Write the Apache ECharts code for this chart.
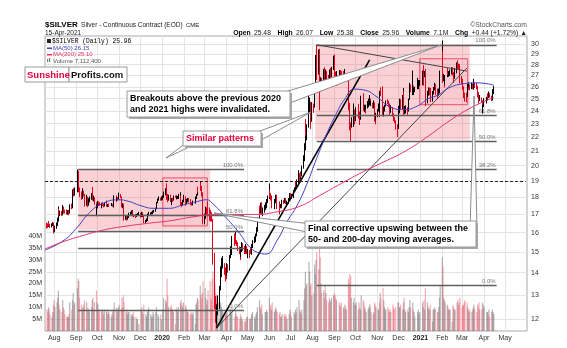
<!DOCTYPE html>
<html><head><meta charset="utf-8">
<script src="https://cdn.jsdelivr.net/npm/echarts@6/dist/echarts.min.js"></script>
<style>html,body{margin:0;padding:0;background:#fff}#c{width:567px;height:348px}</style>
</head><body><div id="c"></div>
<script>
// ---------------- DATA ----------------
const startDate = '2019-07-22';
const holidays = ['2019-09-02','2019-11-28','2019-12-25','2020-01-01','2020-04-10','2020-05-25','2020-07-03','2020-09-07','2020-11-26','2020-12-25','2021-01-01','2021-04-02'];
const firstOpen = 16.45;
const closes = [
// Jul 2019
16.40,16.38,16.50,16.43,16.37,16.43,16.47,16.37,
// Aug 2019
16.14,16.29,16.39,16.60,17.18,17.00,17.13,17.02,17.39,17.22,17.21,17.12,17.11,17.12,17.13,17.07,17.48,17.38,18.02,18.35,18.27,18.39,
// Sep 2019
19.09,19.60,18.46,18.16,18.09,18.20,18.35,18.14,17.53,17.99,17.95,17.55,17.88,17.90,18.16,18.56,17.94,17.97,17.66,16.99,
// Oct 2019
17.40,17.68,17.62,17.61,17.41,17.58,17.55,17.52,17.53,17.69,17.51,17.53,17.54,17.53,17.57,17.60,17.48,17.69,18.06,17.82,17.93,17.90,18.11,
// Nov 2019
18.16,18.04,17.47,17.58,16.88,16.82,16.86,16.73,16.85,16.89,17.02,17.07,17.12,17.15,16.95,16.97,16.90,16.97,17.04,17.06,
// Dec 2019
16.87,17.05,16.90,16.95,16.55,16.65,16.68,16.94,16.95,17.06,17.07,17.10,17.06,17.18,17.18,17.33,17.67,17.87,17.91,17.86,17.92,
// Jan 2020
18.05,18.22,18.33,18.44,18.07,17.86,18.10,17.78,17.63,17.89,17.86,18.06,18.05,17.95,17.98,18.00,18.03,18.06,17.57,17.52,17.78,18.06,
// Feb 2020
17.66,17.65,17.73,17.84,17.81,17.76,17.63,17.56,17.65,17.70,17.72,17.98,18.12,18.48,18.47,18.74,18.52,18.10,17.70,16.56,
// Mar 2020
16.82,17.30,17.20,17.50,17.28,17.05,16.87,16.73,15.75,14.76,12.74,12.49,12.00,12.32,12.55,13.04,14.06,14.29,14.41,14.46,14.03,14.00,
// Apr 2020
13.91,14.35,14.16,14.79,14.94,15.18,15.75,15.49,15.78,15.53,15.40,15.21,15.12,14.76,15.02,15.35,15.18,15.15,15.08,15.17,15.00,
// May 2020
15.02,14.98,15.05,14.97,15.23,15.52,15.67,15.71,15.84,16.12,16.66,17.23,17.09,17.58,17.13,17.21,17.37,17.45,17.70,17.96,
// Jun 2020
18.34,18.19,17.90,17.98,17.42,17.58,17.77,18.05,17.82,17.48,17.47,17.42,17.49,17.46,17.75,17.73,17.91,17.68,17.58,17.68,17.86,18.19,
// Jul 2020
17.99,18.05,18.40,18.51,18.85,18.79,18.97,19.46,19.18,19.49,19.43,19.83,20.42,21.37,22.88,22.67,22.78,24.39,24.52,24.12,23.27,24.39,
// Aug 2020
24.35,26.04,26.89,28.36,27.51,29.26,25.90,25.58,26.50,26.21,27.45,27.19,26.67,27.36,26.80,26.65,26.39,27.43,27.19,27.70,28.51,
// Sep 2020
28.20,27.12,26.73,27.01,26.86,27.19,27.09,26.74,27.18,26.93,27.11,26.74,26.86,24.59,24.22,22.97,22.87,23.05,23.16,23.47,23.29,
// Oct 2020
23.57,23.89,24.37,23.61,23.34,23.80,25.07,24.89,24.15,24.26,24.15,24.29,24.53,24.57,25.00,24.53,24.70,24.43,24.58,23.39,23.38,23.64,
// Nov 2020
24.04,24.31,23.90,25.56,25.51,24.08,24.09,24.25,24.44,24.78,24.74,24.37,24.29,23.93,24.19,23.65,23.42,23.21,22.66,22.62,
// Dec 2020
24.19,24.21,24.84,24.23,24.89,25.56,23.94,24.06,24.13,24.01,24.58,24.83,26.17,25.76,25.99,25.63,25.64,25.86,25.92,26.28,26.37,26.41,
// Jan 2021
27.37,27.56,27.11,27.22,24.97,25.11,25.47,25.62,25.60,24.85,24.95,25.56,25.78,26.21,25.55,25.45,25.38,25.74,26.55,27.00,
// Feb 2021
29.42,26.86,26.94,26.31,26.92,27.48,27.16,27.31,27.11,27.36,27.40,27.33,27.06,27.07,27.26,28.01,27.89,27.87,27.38,26.69,
// Mar 2021
26.56,25.92,25.48,25.19,25.16,25.12,26.06,26.05,26.18,25.91,26.17,25.96,26.25,26.28,26.20,25.96,25.35,25.28,25.01,25.07,24.80,24.25,24.40,
// Apr 2021
24.96,24.97,25.28,25.11,25.38,25.26,24.95,25.51,25.52,25.96
];
const highs = [
16.55,16.50,16.62,16.60,16.48,16.50,16.56,16.55,
16.48,16.38,16.55,16.82,17.46,17.32,17.22,17.20,17.54,17.45,17.40,17.28,17.28,17.25,17.23,17.25,17.58,17.62,18.10,18.48,18.55,18.60,
19.15,19.75,19.65,18.60,18.35,18.30,18.55,18.40,18.20,18.15,18.05,17.98,17.95,18.05,18.25,18.62,18.62,18.10,18.00,17.70,
17.55,17.78,17.75,17.70,17.68,17.65,17.70,17.60,17.72,17.80,17.75,17.60,17.62,17.60,17.65,17.66,17.60,17.75,18.12,18.10,17.98,18.02,18.20,
18.28,18.20,18.05,17.65,17.62,16.95,16.92,16.90,16.95,16.98,17.10,17.15,17.22,17.25,17.18,17.00,17.02,17.02,17.08,17.15,
17.10,17.15,17.12,17.02,16.98,16.70,16.78,16.98,17.05,17.15,17.12,17.15,17.12,17.22,17.26,17.38,17.72,17.92,18.05,17.98,18.05,
18.12,18.35,18.55,18.58,18.85,18.20,18.15,18.15,17.82,17.95,17.95,18.10,18.10,18.12,18.05,18.08,18.20,18.30,18.12,17.72,17.85,18.15,
18.05,17.85,17.90,17.95,17.95,17.88,17.85,17.70,17.72,17.80,17.78,18.05,18.20,18.55,18.65,18.96,18.90,18.70,18.30,17.88,
17.05,17.45,17.40,17.60,17.75,17.40,17.25,17.12,16.75,15.85,14.95,12.95,12.62,12.58,12.98,13.40,14.30,14.62,14.70,14.80,14.45,14.25,
14.15,14.45,14.40,14.85,15.30,15.35,15.82,15.95,16.10,15.90,15.60,15.50,15.28,15.15,15.25,15.50,15.45,15.30,15.30,15.40,15.30,
15.15,15.10,15.25,15.20,15.40,15.60,15.80,15.85,15.95,16.30,16.85,17.35,17.50,17.68,17.70,17.40,17.55,17.70,17.90,18.10,
18.85,18.45,18.25,18.10,18.05,17.70,17.90,18.15,18.15,17.75,17.60,17.75,17.60,17.65,17.85,17.85,17.95,17.95,17.70,17.80,17.95,18.25,
18.25,18.20,18.45,18.60,18.95,19.00,19.10,19.70,19.50,19.60,19.55,20.00,20.70,21.55,23.15,23.35,22.95,26.05,25.10,24.75,24.70,24.70,
24.60,26.20,27.10,28.90,29.91,29.45,29.50,26.45,26.85,26.80,27.60,27.75,27.30,27.55,27.40,27.05,27.00,27.55,27.70,27.80,28.85,
28.95,28.25,27.35,27.40,27.50,27.45,27.50,27.40,27.30,27.40,27.60,27.20,27.20,26.95,24.95,24.65,23.10,23.50,23.45,24.60,24.10,
24.30,24.15,24.50,24.55,23.95,24.10,25.25,25.45,25.10,24.50,24.35,24.50,24.80,25.00,25.30,25.00,24.80,24.65,24.85,24.70,23.60,23.85,
24.15,24.60,24.50,25.65,25.95,26.05,24.35,24.40,24.50,24.85,24.95,24.80,24.60,24.25,24.45,24.30,23.80,23.50,23.25,22.95,
24.40,24.50,25.00,24.95,25.30,25.90,25.60,24.40,24.45,24.30,24.65,25.00,26.35,26.20,27.45,26.10,25.95,26.00,26.80,26.35,26.60,26.60,
27.45,27.70,27.95,27.40,27.60,25.60,25.65,25.95,25.95,25.90,25.10,25.65,26.00,26.35,26.25,25.85,25.60,25.85,26.75,27.45,
30.35,29.30,27.15,27.00,27.05,27.65,27.65,27.40,27.30,27.55,27.75,27.75,27.30,27.35,27.70,28.20,28.40,28.10,28.05,27.50,
26.95,26.70,26.05,25.75,25.50,25.50,26.25,26.25,26.40,26.20,26.35,26.30,26.35,26.70,26.40,26.35,26.10,25.55,25.35,25.30,25.10,24.85,24.50,
25.05,25.15,25.40,25.45,25.60,25.45,25.25,25.60,25.80,26.07
];
const lows = [
16.22,16.25,16.30,16.35,16.25,16.28,16.35,16.20,
15.95,16.02,16.20,16.35,16.60,16.90,16.90,16.92,16.95,17.10,17.05,17.05,17.00,16.98,17.02,16.95,17.05,17.30,17.35,17.92,18.05,18.10,
18.30,19.05,18.30,18.02,17.85,17.90,17.95,18.05,17.45,17.50,17.75,17.42,17.50,17.70,17.85,18.10,17.80,17.75,17.55,16.92,
16.90,17.35,17.50,17.50,17.38,17.35,17.48,17.40,17.45,17.50,17.45,17.42,17.45,17.46,17.48,17.50,17.45,17.40,17.62,17.75,17.75,17.80,17.85,
17.95,17.95,17.40,17.35,16.80,16.65,16.70,16.65,16.70,16.80,16.88,16.98,17.00,17.05,16.90,16.85,16.80,16.85,16.92,16.95,
16.82,16.85,16.85,16.88,16.52,16.50,16.58,16.62,16.85,16.90,16.98,17.00,17.00,17.02,17.10,17.15,17.30,17.65,17.80,17.80,17.80,
17.85,17.98,18.12,18.20,17.85,17.70,17.80,17.72,17.52,17.55,17.72,17.80,17.98,17.88,17.88,17.90,17.90,17.90,17.50,17.42,17.50,17.70,
17.60,17.50,17.60,17.70,17.70,17.68,17.55,17.50,17.52,17.58,17.62,17.70,17.90,18.10,18.30,18.40,18.40,18.05,17.60,16.45,
16.45,16.75,16.90,17.10,17.00,16.65,16.60,16.60,15.50,14.38,12.40,11.85,11.64,11.78,12.15,12.40,13.20,13.80,14.10,14.20,13.90,13.60,
13.70,13.85,14.00,14.10,14.70,14.85,15.15,15.30,15.40,15.40,15.30,15.05,14.90,14.60,14.75,15.00,15.05,14.90,14.90,15.00,14.90,
14.70,14.70,14.90,14.90,14.85,15.20,15.45,15.50,15.60,15.80,16.05,16.70,16.90,17.05,17.00,16.90,17.10,17.25,17.35,17.65,
17.90,18.00,17.80,17.70,17.35,17.30,17.50,17.65,17.75,17.30,17.00,17.35,17.35,17.35,17.45,17.60,17.65,17.60,17.45,17.50,17.60,17.80,
17.80,17.90,17.95,18.35,18.40,18.65,18.65,18.85,18.90,19.10,19.25,19.30,19.80,20.30,21.05,22.10,21.75,22.70,23.80,23.85,22.60,23.15,
23.85,24.25,25.90,26.80,26.60,27.10,24.90,24.05,25.60,25.90,26.10,26.70,25.85,26.40,26.50,26.40,26.05,26.20,26.80,26.85,27.50,
28.05,26.90,26.10,26.10,26.60,26.75,26.90,26.40,26.70,26.80,26.75,26.50,26.55,24.40,24.05,22.50,21.70,22.70,22.75,23.10,22.95,
23.20,23.20,23.85,23.40,22.90,23.30,23.80,24.60,24.00,23.90,23.80,24.10,24.20,24.30,24.45,24.40,24.40,24.20,24.20,23.15,22.95,23.25,
23.50,23.95,23.50,23.85,25.20,23.60,23.55,23.95,24.05,24.35,24.55,24.30,24.05,23.65,23.85,23.55,23.20,23.05,22.55,22.00,
22.60,23.80,24.15,24.10,24.10,24.80,23.60,23.75,23.80,23.60,23.95,24.50,24.90,25.55,25.30,25.40,25.30,25.55,25.80,25.80,26.15,26.10,
26.15,27.00,26.10,26.85,24.40,24.60,24.85,25.25,25.30,24.70,24.75,24.85,25.35,25.70,25.30,25.20,25.05,25.25,25.45,26.30,
27.80,26.35,26.50,25.95,26.20,26.85,27.05,26.90,26.95,26.95,27.10,27.00,26.35,26.70,26.85,27.20,27.60,27.60,27.25,26.30,
26.25,25.75,25.35,25.05,24.75,24.70,25.15,25.75,25.95,25.70,25.80,25.80,25.75,26.05,25.90,25.80,25.10,24.95,24.60,24.80,24.70,23.80,23.78,
24.30,24.60,24.85,25.00,25.05,25.10,24.80,24.85,25.30,25.38
];
// volume, millions
const volumes = [
9,8,10,9,7,6,8,11,
13,10,12,14,17,11,9,8,13,10,9,7,6,6,6,7,12,9,13,16,11,12,
18,22,21,14,11,9,10,11,13,12,9,10,9,8,10,13,14,9,12,17,
12,11,8,9,8,9,8,7,9,8,9,7,8,7,6,7,8,9,12,10,8,9,10,
11,9,14,10,15,12,8,9,7,8,8,7,6,7,8,6,6,5,5,3,
9,10,8,7,11,7,6,8,9,10,7,6,6,8,7,8,10,7,6,7,5,
9,14,13,12,22,15,10,10,11,9,9,8,3,10,9,8,10,12,13,11,10,12,
11,10,9,8,8,7,8,7,7,8,3,11,12,14,13,19,15,14,16,21,
18,14,11,13,17,21,14,13,22,25,20,16,15,13,12,11,12,10,9,8,7,7,
7,8,6,9,9,7,10,6,9,7,6,6,5,7,6,5,4,4,4,5,6,
6,5,5,6,7,8,6,5,7,8,10,13,10,9,11,7,8,8,9,8,
14,10,11,9,12,8,9,10,9,8,7,8,6,6,7,7,6,7,6,5,7,9,
8,6,8,7,9,8,10,13,9,8,7,9,13,18,25,19,20,29,25,19,20,15,
16,28,24,30,33,26,36,31,20,16,17,14,19,16,13,12,14,13,12,14,15,
16,15,14,13,12,11,10,12,10,9,11,10,9,22,20,24,23,14,12,14,11,
11,12,9,12,10,9,15,13,12,10,9,8,9,10,11,10,8,7,8,12,11,10,
9,9,12,16,14,18,13,10,9,9,10,9,8,9,8,11,10,9,10,12,
12,10,10,11,9,12,14,9,8,9,8,10,13,10,12,9,8,6,8,9,7,8,
12,10,13,9,18,12,10,9,9,11,4,9,9,10,9,8,8,10,14,19,
31,27,14,13,12,11,10,9,9,9,4,11,10,9,9,12,13,11,12,14,
10,11,11,12,13,12,10,9,8,9,8,9,10,11,9,8,11,10,12,9,9,12,11,
10,8,8,7,9,6,8,9,8,7.1124
];
const ma50Dates = ['2019-07-19','2019-08-15','2019-09-03','2019-09-20','2019-10-07','2019-10-31','2019-11-15','2019-12-02','2019-12-20','2020-01-10','2020-01-31','2020-02-20','2020-03-04','2020-03-12','2020-04-01','2020-04-20','2020-05-04','2020-05-18','2020-05-27','2020-06-12','2020-06-26','2020-07-10','2020-07-24','2020-08-07','2020-08-21','2020-09-03','2020-09-15','2020-09-30','2020-10-15','2020-10-30','2020-11-20','2020-12-08','2020-12-28','2021-01-12','2021-01-26','2021-02-10','2021-03-01','2021-03-22','2021-04-15'];
const ma50Values = [15.1,15.6,16.3,17.1,17.6,17.85,17.75,17.5,17.35,17.35,17.55,17.75,17.85,17.65,16.8,15.95,15.25,14.95,14.9,15.6,16.6,17.5,18.8,20.5,22.2,23.7,24.9,25.8,25.7,25.2,24.3,24.1,24.4,25.0,25.3,25.9,26.25,26.35,26.15];
const ma200Dates = ['2019-07-19','2019-08-12','2019-09-11','2019-10-11','2019-11-11','2019-12-11','2020-01-13','2020-02-12','2020-03-13','2020-04-13','2020-05-12','2020-06-12','2020-07-13','2020-08-11','2020-09-11','2020-10-12','2020-11-10','2020-12-11','2021-01-13','2021-02-12','2021-03-15','2021-04-15'];
const ma200Values = [15.15,15.5,15.85,16.15,16.35,16.5,16.65,16.85,17.0,17.0,17.0,17.15,17.45,18.1,18.85,19.6,20.25,21.0,22.1,23.25,24.3,25.1];
const priceTicks = [12,13,14,15,16,17,18,19,20,21,22,23,24,25,26,27,28,29,30];
const fib2019Levels = [19.78,16.95,16.08,15.2,12.37];
const fib2019Labels = ['100.0%','61.8%','50.0%','','0.0%'];
const fib2020Levels = [29.91,23.62,21.68,19.73,13.44];
const fib2020Labels = ['100.0%','61.8%','50.0%','38.2%','0.0%'];
const MONTHS = ['Jan','Feb','Mar','Apr','May','Jun','Jul','Aug','Sep','Oct','Nov','Dec'];

// ---------------- BUILD ----------------
const L = v => Math.log(v);
const T = s => Date.parse(s + 'T00:00:00Z');
function tradingDays(n){
  const out=[]; let t=T(startDate);
  while(out.length<n){
    const d=new Date(t), wd=d.getUTCDay(), iso=d.toISOString().slice(0,10);
    if(wd!==0 && wd!==6 && holidays.indexOf(iso)<0) out.push(t);
    t+=86400000;
  }
  return out;
}
const dates = tradingDays(closes.length);
const candleData=[], volData=[];
for(let i=0;i<closes.length;i++){
  const o = i===0 ? firstOpen : closes[i-1];
  candleData.push([dates[i], L(o), L(closes[i]), L(lows[i]), L(highs[i])]);
  const up = closes[i] >= o;
  volData.push({value:[dates[i], volumes[i]*1e6], itemStyle:{color: up ? 'rgba(120,120,120,0.55)' : 'rgba(238,90,110,0.5)'}});
}
const ma50Data = ma50Dates.map((d,i)=>[T(d), L(ma50Values[i])]);
const ma200Data = ma200Dates.map((d,i)=>[T(d), L(ma200Values[i])]);
const monthTicks=[];
for(let y=2019,m=7; y<2021 || (y===2021 && m<=4); ){ monthTicks.push(Date.UTC(y,m,1)); m++; if(m>11){m=0;y++;} }

const FONT='"Liberation Sans", Arial, sans-serif';
const fibLine = (t1,t2,v,lab)=>[
  {coord:[T(t1),L(v)], lineStyle:{color:'#5f5f5f',width:1.3,type:'solid'},
   label:{show:!!lab, position:'insideEndTop', formatter:lab, fontSize:6, color:'#777', fontFamily:FONT, distance:1}},
  {coord:[T(t2),L(v)]}];
const segLine = (t1,v1,t2,v2,color,width)=>[
  {coord:[T(t1),L(v1)], lineStyle:{color, width, type:'solid'}, label:{show:false}},
  {coord:[T(t2),L(v2)]}];
const badge = (v, text, border, bg, fg)=>({yAxis:v, lineStyle:{opacity:0}, symbol:'none',
  label:{show:true, position:'end', formatter:text, fontSize:6.5, fontFamily:FONT, color:fg, backgroundColor:bg,
  borderColor:border, borderWidth:1, borderRadius:3, padding:[1,2,0,2], distance:1}});

const markLines = [];
fib2019Levels.forEach((v,i)=>markLines.push(fibLine('2019-09-04','2020-04-26',v,fib2019Labels[i])));
fib2020Levels.forEach((v,i)=>markLines.push(fibLine('2020-08-07','2021-04-19',v,fib2020Labels[i])));
markLines.push(segLine('2020-03-18',11.64,'2020-10-21',28.45,'#000',1.6));
markLines.push(segLine('2020-03-18',11.64,'2021-03-08',27.7,'#333',0.9));
markLines.push(segLine('2020-08-07',29.91,'2021-03-08',27.4,'#444',1));
markLines.push([{coord:[T('2019-07-19'),L(18.97)], lineStyle:{color:'#222',width:1,type:[3,2]}, label:{show:false}},{coord:[T('2021-05-30'),L(18.97)]}]);

// ---------------- GRAPHIC ANNOTATIONS ----------------
function callout(x,y,w,h,lines,color,lh){
  const els=[
    {type:'rect', shape:{x:x+2,y:y+2,width:w,height:h}, style:{fill:'#a8a8a8'}, z:110},
    {type:'rect', shape:{x:x,y:y,width:w,height:h}, style:{fill:'#fff', stroke:'#9a9a9a', lineWidth:1}, z:111}];
  lines.forEach((t,i)=>els.push({type:'text', x:x+3, y:y+h/2+(i-(lines.length-1)/2)*lh, z:112,
    style:{text:t, font:'bold 9px '+FONT, fill:color, verticalAlign:'middle', textVerticalAlign:'middle'}}));
  return els;
}
const wedge=(a,b,tip)=>({type:'polygon', shape:{points:[a,tip,b]}, style:{fill:'#fff', stroke:'#8c8c8c', lineWidth:1}, z:105});
const txt=(x,y,text,font,fill,align)=>({type:'text', x, y, z:120,
  style:{text, font, fill, align:align||'left', textAlign:align||'left', verticalAlign:'middle', textVerticalAlign:'middle'}});

const graphics = [].concat(
  [ {type:'text', x:45, y:25, z:120, style:{text:'{a|$SILVER} {b|Silver - Continuous Contract (EOD)} {c|CME}', verticalAlign:'middle', textVerticalAlign:'middle',
      rich:{a:{font:'bold 8px '+FONT, fill:'#000', color:'#000'}, b:{font:'6.5px '+FONT, fill:'#222', color:'#222'}, c:{font:'6px '+FONT, fill:'#222', color:'#222'}}}},
    txt(45,33,'15-Apr-2021','6.5px '+FONT,'#222'),
    txt(527,25,'\u00A9StockCharts.com','6.8px '+FONT,'#555','right'),
    {type:'text', x:527, y:33, z:120, style:{align:'right', textAlign:'right', verticalAlign:'middle', textVerticalAlign:'middle',
      text:'{k|Open} {v|25.48}  {k|High} {v|26.07}  {k|Low} {v|25.38}  {k|Close} {v|25.96}  {k|Volume} {v|7.1M}  {k|Chg} {v|+0.44 (+1.72%) \u25B2}',
      rich:{k:{font:'bold 6.8px '+FONT, fill:'#000', color:'#000'}, v:{font:'6.8px '+FONT, fill:'#222', color:'#222'}}}},
    // legend
    {type:'rect', shape:{x:47,y:39,width:4,height:4}, style:{fill:'#222'}, z:120},
    txt(52,41,'$SILVER (Daily) 25.96','6.3px "Liberation Mono", monospace','#000'),
    {type:'rect', shape:{x:47,y:47.5,width:5,height:1.5}, style:{fill:'#4040c0'}, z:120},
    txt(53,48,'MA(50) 26.15','6px '+FONT,'#4040c0'),
    {type:'rect', shape:{x:47,y:54,width:5,height:1.5}, style:{fill:'#e8336a'}, z:120},
    txt(53,54.5,'MA(200) 25.10','6px '+FONT,'#e8336a'),
    {type:'rect', shape:{x:47,y:59,width:1.2,height:3}, style:{fill:'#777'}, z:120},
    {type:'rect', shape:{x:49,y:58,width:1.2,height:4}, style:{fill:'#777'}, z:120},
    txt(53,61,'Volume 7,112,400','6px '+FONT,'#555'),
    // Sunshine Profits logo
    {type:'rect', shape:{x:25,y:67,width:44,height:15}, style:{fill:'#fff', stroke:'#999', lineWidth:1}, z:120},
    {type:'rect', shape:{x:69,y:67,width:58,height:15}, style:{fill:'#fff', stroke:'#999', lineWidth:1}, z:120},
    txt(27,75,'Sunshine','bold 9.5px '+FONT,'#e3003c'),
    txt(71,75,'Profits.com','bold 9.5px '+FONT,'#111'),
    // pointers
    wedge([268,97],[282,106],[441,45]),
    wedge([190,140],[204,140],[166,158]),
    wedge([252,134],[256,143],[311,112]),
    wedge([312,224],[312,233],[214,213]),
    wedge([470,230],[477,230],[474,96])
  ],
  callout(127,91,163,26,['Breakouts above the previous 2020','and 2021 highs were invalidated.'],'#000',11),
  callout(183,131,78,15,['Similar patterns'],'#e3003c',11),
  callout(305,221,171,26,['Final corrective upswing between the','50- and 200-day moving averages.'],'#000',11)
);

// ---------------- CHART ----------------
const chart = echarts.init(document.getElementById('c'), null, {renderer:'canvas'});
chart.setOption({
  animation:false, backgroundColor:'#fff',
  grid:{left:45,right:40,top:36,bottom:17,show:true,borderColor:'#a8a8a8',borderWidth:1,backgroundColor:'#fff'},
  xAxis:{type:'value', min:T('2019-07-19'), max:T('2021-06-01'), scale:true,
    axisLine:{show:false}, axisTick:{show:false, customValues:monthTicks},
    splitLine:{show:true, lineStyle:{color:'#e4e4e4', width:1}},
    axisLabel:{customValues:monthTicks, fontSize:7, color:'#333', fontFamily:FONT, margin:4, hideOverlap:false,
      formatter:v=>{const d=new Date(v), m=d.getUTCMonth(); return m===0 ? '{y|'+d.getUTCFullYear()+'}' : MONTHS[m];},
      rich:{y:{fontWeight:'bold', fontSize:7, color:'#222', fontFamily:FONT}}}},
  yAxis:[
    {type:'value', position:'right', min:L(11.53), max:L(30.8), scale:true,
      axisLine:{show:false}, axisTick:{show:false, customValues:priceTicks.map(L)},
      splitLine:{show:true, lineStyle:{color:'#e4e4e4', width:1}},
      axisLabel:{customValues:priceTicks.map(L), formatter:v=>String(Math.round(Math.exp(v))), fontSize:7, color:'#333', fontFamily:FONT, margin:4}},
    {type:'value', position:'left', min:0, max:124.2e6, interval:5e6,
      axisLine:{show:false}, axisTick:{show:false}, splitLine:{show:false},
      axisLabel:{formatter:v=>(v>0 && v<=40e6) ? (v/1e6)+'M' : '', fontSize:7, color:'#333', fontFamily:FONT, margin:3}}
  ],
  series:[
    {type:'bar', name:'Volume', yAxisIndex:1, data:volData, barWidth:1.2, z:1, large:false,
      markLine:{silent:true, symbol:['none','none'], animation:false, data:[badge(7.1124e6,'7.1124','#222','#333','#fff')]}},
    {type:'candlestick', name:'$SILVER', yAxisIndex:0, data:candleData, barWidth:1, z:3,
      encode:{x:0, y:[1,2,3,4]},
      itemStyle:{color:'#000', color0:'#e3001b', borderColor:'#000', borderColor0:'#e3001b', borderWidth:1},
      markArea:{silent:true, z:1, data:[
        [{coord:[T('2019-09-04'),L(16.15)], itemStyle:{color:'rgba(235,80,95,0.26)'}},{coord:[T('2020-03-09'),L(19.78)]}],
        [{coord:[T('2020-01-02'),L(16.36)], itemStyle:{color:'rgba(235,80,95,0.05)', borderColor:'#e8506a', borderWidth:1}},{coord:[T('2020-03-05'),L(19.2)]}],
        [{coord:[T('2020-08-05'),L(21.8)], itemStyle:{color:'rgba(235,80,95,0.26)'}},{coord:[T('2021-03-12'),L(29.91)]}],
        [{coord:[T('2020-12-31'),L(24.5)], itemStyle:{color:'rgba(235,80,95,0.05)', borderColor:'#e8506a', borderWidth:1}},{coord:[T('2021-03-09'),L(28.55)]}]
      ]},
      markLine:{silent:true, symbol:['none','none'], animation:false, z:4, label:{show:false}, data:markLines}},
    {type:'line', name:'MA(50)', yAxisIndex:0, data:ma50Data, smooth:0.5, showSymbol:false, z:4,
      lineStyle:{color:'#4040c0', width:1}, itemStyle:{color:'#4040c0'},
      markLine:{silent:true, symbol:['none','none'], animation:false, data:[badge(L(26.15),'26.15','#4040c0','#fff','#222')]}},
    {type:'line', name:'MA(200)', yAxisIndex:0, data:ma200Data, smooth:0.5, showSymbol:false, z:4,
      lineStyle:{color:'#e8336a', width:1}, itemStyle:{color:'#e8336a'},
      markLine:{silent:true, symbol:['none','none'], animation:false, data:[badge(L(25.10),'25.10','#e8336a','#fff','#222')]}},
    {type:'line', name:'last', yAxisIndex:0, data:[[dates[dates.length-1], L(25.96)]], showSymbol:false, lineStyle:{opacity:0}, z:6,
      markLine:{silent:true, symbol:['none','none'], animation:false, z:8, data:[badge(L(25.96),'25.96','#000','#fff','#000')]}}
  ],
  graphic:{elements:graphics}
});
</script></body></html>
